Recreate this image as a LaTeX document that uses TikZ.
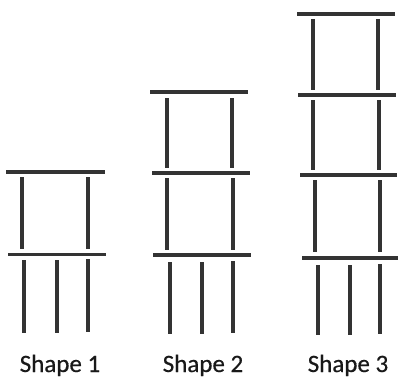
\documentclass[tikz,border=0pt]{standalone}
\usepackage{fontspec}
\setmainfont{Carlito}
\newfontfamily\lblfont[FakeBold=0.5]{Carlito}
\begin{document}
\begin{tikzpicture}[x=1pt,y=-1pt,
  stick/.style={line width=3.2pt,draw=black!80},
  bar/.style={line width=3.2pt,draw=black!80},
  lbl/.style={font=\lblfont\fontsize{25}{30}\selectfont,text=black!90,anchor=base}]
\useasboundingbox (0,0) rectangle (398,377);
% Shape 1
\draw[bar] (6,172) -- (105,172);
\draw[stick] (22,177) -- (22,249);
\draw[stick] (88,177) -- (88,249);
\draw[bar] (8,254.5) -- (106,254.5);
\draw[stick] (24,260) -- (24,333);
\draw[stick] (57,260) -- (57,333);
\draw[stick] (88,259) -- (88,332);
% Shape 2
\draw[bar] (150,92) -- (248,92);
\draw[stick] (167,98) -- (167,168);
\draw[stick] (232,98) -- (232,168);
\draw[bar] (152,173) -- (250,173);
\draw[stick] (167,178) -- (167,250);
\draw[stick] (233,178) -- (233,250);
\draw[bar] (153,255) -- (251,255);
\draw[stick] (170,262) -- (170,334);
\draw[stick] (202,262) -- (202,334);
\draw[stick] (233,261) -- (233,333);
% Shape 3
\draw[bar] (297,14) -- (395,14);
\draw[stick] (313,19) -- (313,90);
\draw[stick] (378,19) -- (378,90);
\draw[bar] (298,95) -- (396,95);
\draw[stick] (313,100) -- (313,170);
\draw[stick] (379,100) -- (379,170);
\draw[bar] (300,175) -- (397,175);
\draw[stick] (315,180) -- (315,252);
\draw[stick] (380,180) -- (380,252);
\draw[bar] (302,258) -- (398,258);
\draw[stick] (318,265) -- (318,335);
\draw[stick] (350,265) -- (350,335);
\draw[stick] (380,264) -- (380,334);
% labels
\node[lbl] (l1) at (60,372) {Shape 1};
\node[lbl] (l2) at (203,372) {Shape 2};
\node[lbl] (l3) at (348,372) {Shape 3};
\end{tikzpicture}
\end{document}
